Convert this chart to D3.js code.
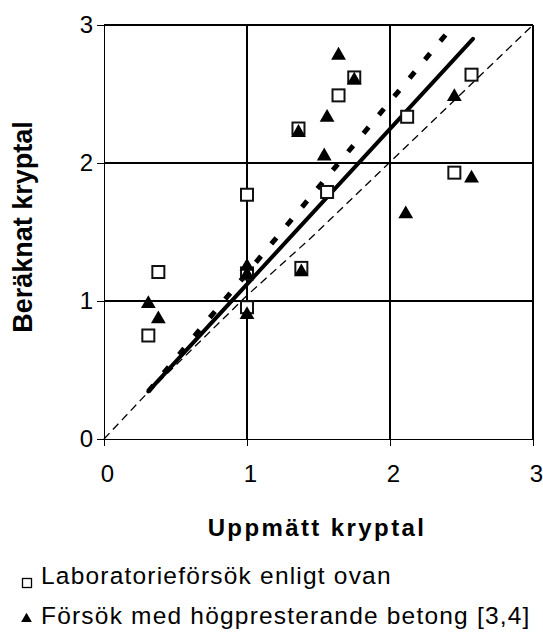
<!DOCTYPE html>
<html>
<head>
<meta charset="utf-8">
<script src="https://cdn.jsdelivr.net/npm/d3@7"></script>
<style>
  html, body { margin: 0; padding: 0; background: #fff; }
  svg { display: block; font-family: "Liberation Sans", Arial, sans-serif; }
</style>
</head>
<body>
<svg id="chart" width="543" height="632"></svg>
<script>
// ---- data ----
const xTicks = [0, 1, 2, 3];
const yTicks = [0, 1, 2, 3];
const xTitle = "Uppmätt kryptal";
const yTitle = "Beräknat kryptal";
const legendLabels = ["Laboratorieförsök enligt ovan", "Försök med högpresterande betong [3,4]"];

const squareX = [0.31, 0.38, 1.00, 1.00, 1.00, 1.38, 1.36, 1.56, 1.64, 1.75, 2.12, 2.45, 2.57];
const squareY = [0.75, 1.21, 1.77, 1.20, 0.955, 1.24, 2.25, 1.79, 2.49, 2.62, 2.335, 1.93, 2.64];

const triX = [0.31, 0.38, 1.00, 1.00, 1.00, 1.38, 1.36, 1.54, 1.56, 1.64, 1.75, 2.11, 2.45, 2.57];
const triY = [0.98, 0.87, 1.25, 1.19, 0.90, 1.21, 2.22, 2.05, 2.33, 2.78, 2.60, 1.63, 2.48, 1.89];

const solidX = [0.31, 2.58];
const solidY = [0.345, 2.90];
const dotX = [0.31, 2.39];
const dotY = [0.345, 2.93];
const dashX = [0, 0.3, 1.0, 1.45, 3];
const dashY = [0, 0.33, 1.04, 1.46, 3];

// ---- layout ----
const svg = d3.select("#chart");
const x = d3.scaleLinear().domain([0, 3]).range([104, 533]);
const y = d3.scaleLinear().domain([0, 3]).range([439, 25]);

// grid lines
const g = svg.append("g");
g.selectAll(".vg").data(xTicks.filter(d => d > 0)).enter().append("line")
  .attr("x1", d => x(d)).attr("x2", d => x(d))
  .attr("y1", y(3)).attr("y2", y(0))
  .attr("stroke", "#000").attr("stroke-width", 1.3).attr("shape-rendering", "crispEdges");
g.selectAll(".hg").data(yTicks.filter(d => d > 0)).enter().append("line")
  .attr("x1", x(0)).attr("x2", x(3))
  .attr("y1", d => y(d)).attr("y2", d => y(d))
  .attr("stroke", "#000").attr("stroke-width", 1.3).attr("shape-rendering", "crispEdges");

// axes
const xAxis = d3.axisBottom(x).tickValues(xTicks).tickSize(7).tickFormat(d3.format("d"));
const yAxis = d3.axisLeft(y).tickValues(yTicks).tickSize(7).tickFormat(d3.format("d"));
const gx = svg.append("g").attr("transform", `translate(0,${y(0)})`).call(xAxis);
const gy = svg.append("g").attr("transform", `translate(${x(0)},0)`).call(yAxis);
[gx, gy].forEach(a => {
  a.select(".domain").attr("stroke", "#000").attr("stroke-width", 1.3).attr("shape-rendering", "crispEdges");
  a.selectAll(".tick line").attr("stroke", "#000").attr("stroke-width", 1.3).attr("shape-rendering", "crispEdges");
  a.selectAll(".tick text").attr("fill", "#000").style("font-size", "24px")
    .style("font-family", "'Liberation Sans', Arial, sans-serif");
});
gx.selectAll(".tick text").attr("y", 26).attr("dy", "0.71em").attr("dx", 3);
gy.selectAll(".tick text").attr("x", -11);

// right border
svg.append("line").attr("x1", x(3)).attr("x2", x(3)).attr("y1", y(3)).attr("y2", y(0))
  .attr("stroke", "#000").attr("stroke-width", 1.3).attr("shape-rendering", "crispEdges");

// lines
const lineGen = d3.line().x(d => x(d[0])).y(d => y(d[1]));
svg.append("path").datum(d3.zip(dashX, dashY)).attr("d", lineGen)
  .attr("fill", "none").attr("stroke", "#000").attr("stroke-width", 1.3)
  .attr("stroke-dasharray", "8,5");
svg.append("path").datum(d3.zip(dotX, dotY)).attr("d", lineGen)
  .attr("fill", "none").attr("stroke", "#000").attr("stroke-width", 5)
  .attr("stroke-dasharray", "8,16");
svg.append("path").datum(d3.zip(solidX, solidY)).attr("d", lineGen)
  .attr("fill", "none").attr("stroke", "#000").attr("stroke-width", 4)
  .attr("stroke-linecap", "round");

// markers
const sqSize = 12;
svg.append("g").selectAll("rect").data(d3.zip(squareX, squareY)).enter().append("rect")
  .attr("x", d => x(d[0]) - sqSize / 2).attr("y", d => y(d[1]) - sqSize / 2)
  .attr("width", sqSize).attr("height", sqSize)
  .attr("fill", "#fff").attr("stroke", "#111").attr("stroke-width", 2);

const tri = d3.symbol().type(d3.symbolTriangle).size(95);
svg.append("g").selectAll("path").data(d3.zip(triX, triY)).enter().append("path")
  .attr("d", tri)
  .attr("transform", d => `translate(${x(d[0])},${y(d[1])})`)
  .attr("fill", "#000");

// titles
svg.append("text").attr("x", 317).attr("y", 536).attr("text-anchor", "middle")
  .style("font-size", "24px").style("font-weight", "bold").style("letter-spacing", "2.4px")
  .text(xTitle);
svg.append("text").attr("transform", "translate(32,227) rotate(-90)").attr("text-anchor", "middle")
  .style("font-size", "27px").style("font-weight", "bold")
  .text(yTitle);

// legend
const leg = svg.append("g");
leg.append("rect").attr("x", 22.5).attr("y", 578.5).attr("width", 9).attr("height", 9)
  .attr("fill", "#fff").attr("stroke", "#000").attr("stroke-width", 1.3);
leg.append("path").attr("d", d3.symbol().type(d3.symbolTriangle).size(50))
  .attr("transform", "translate(26.5,619)").attr("fill", "#000");
leg.selectAll("text").data(legendLabels).enter().append("text")
  .attr("x", 41).attr("y", (d, i) => 584 + i * 40)
  .style("font-size", "24.5px").style("letter-spacing", "1.2px")
  .text(d => d);
</script>
</body>
</html>
